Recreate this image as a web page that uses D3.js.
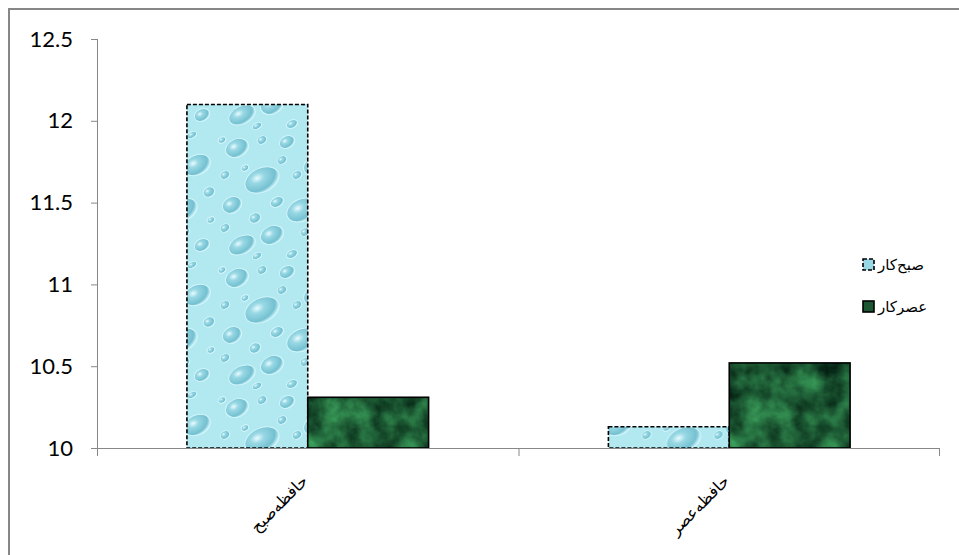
<!DOCTYPE html>
<html>
<head>
<meta charset="utf-8">
<script src="https://cdn.jsdelivr.net/npm/d3@7"></script>
<style>
  body { margin: 0; background: #fff; }
  svg { display: block; }
</style>
</head>
<body>
<div id="chart"></div>
<script>
// Data
const CATEGORIES = ['حافظه‌صبح', 'حافظه‌عصر'];
const SERIES = ['صبح‌کار', 'عصر‌کار'];
const VALUES = {
    'صبح‌کار': [12.1, 10.13],
    'عصر‌کار': [10.31, 10.52]
};
const Y_TICKS = [10, 10.5, 11, 11.5, 12, 12.5];

const WIDTH = 959, HEIGHT = 555;
const PLOT = { left: 97, right: 940, top: 39, bottom: 448 };

const svg = d3.select('#chart').append('svg')
    .attr('width', WIDTH)
    .attr('height', HEIGHT);

// Fill textures
const defs = svg.append('defs');

const drop = defs.append('radialGradient').attr('id', 'drop')
    .attr('cx', '40%').attr('cy', '35%').attr('r', '65%');
drop.append('stop').attr('offset', '0%').attr('stop-color', '#e9fbff');
drop.append('stop').attr('offset', '30%').attr('stop-color', '#98d8e4');
drop.append('stop').attr('offset', '80%').attr('stop-color', '#74c0d0');
drop.append('stop').attr('offset', '100%').attr('stop-color', '#c8f1f7');

const water = defs.append('pattern').attr('id', 'water')
    .attr('patternUnits', 'userSpaceOnUse')
    .attr('width', 120).attr('height', 130);
water.append('rect').attr('width', 120).attr('height', 130).attr('fill', '#b2e8f0');
[[20, 18, 12, 9], [70, 12, 8, 6], [100, 35, 14, 10], [45, 50, 18, 12], [15, 75, 10, 8],
 [85, 80, 16, 11], [55, 105, 12, 9], [105, 115, 8, 6], [25, 115, 14, 9], [65, 30, 5, 4],
 [8, 45, 5, 4], [112, 62, 6, 5], [38, 88, 6, 5], [45, 10, 5, 4], [80, 45, 5, 4],
 [28, 38, 4, 3], [60, 72, 7, 5], [8, 98, 5, 4], [88, 102, 5, 4], [114, 90, 4, 3],
 [40, 126, 5, 3], [75, 124, 6, 4], [5, 10, 4, 3], [95, 5, 5, 3]]
    .forEach(([cx, cy, rx, ry]) => {
        water.append('ellipse')
            .attr('cx', cx).attr('cy', cy).attr('rx', rx).attr('ry', ry)
            .attr('transform', `rotate(-25 ${cx} ${cy})`)
            .attr('fill', 'url(#drop)')
            .attr('stroke', '#d2f6fb').attr('stroke-width', 1);
    });

const noise = defs.append('filter').attr('id', 'marbleNoise')
    .attr('x', 0).attr('y', 0).attr('width', '100%').attr('height', '100%')
    .attr('color-interpolation-filters', 'sRGB');
noise.append('feTurbulence')
    .attr('type', 'fractalNoise')
    .attr('baseFrequency', 0.04)
    .attr('numOctaves', 4)
    .attr('seed', 3);
noise.append('feColorMatrix')
    .attr('type', 'matrix')
    .attr('values', '0.3 0 0 0 -0.04  0.7 0 0 0 0.0  0.4 0 0 0 0.0  0 0 0 0 1');

const marble = defs.append('pattern').attr('id', 'marble')
    .attr('patternUnits', 'userSpaceOnUse')
    .attr('width', WIDTH).attr('height', HEIGHT);
marble.append('rect').attr('width', WIDTH).attr('height', HEIGHT).attr('fill', '#1d5632');
marble.append('rect').attr('width', WIDTH).attr('height', HEIGHT).attr('filter', 'url(#marbleNoise)');

const FILLS = { 'صبح‌کار': 'url(#water)', 'عصر‌کار': 'url(#marble)' };
const DASH = { 'صبح‌کار': '4,2', 'عصر‌کار': null };

// Outer frame
svg.append('rect')
    .attr('x', 9).attr('y', 9)
    .attr('width', WIDTH + 20).attr('height', HEIGHT + 20)
    .attr('fill', 'none')
    .attr('stroke', '#878787')
    .attr('stroke-width', 2);

// Scales
const x0 = d3.scaleBand()
    .domain(CATEGORIES)
    .range([PLOT.left, PLOT.right]);
const x1 = d3.scaleBand()
    .domain(SERIES)
    .range([0, x0.bandwidth()])
    .paddingOuter(0.744);
const y = d3.scaleLinear()
    .domain([10, 12.5])
    .range([PLOT.bottom, PLOT.top]);

// Y axis
const yAxis = svg.append('g')
    .attr('transform', `translate(${PLOT.left},0)`)
    .call(d3.axisLeft(y).tickValues(Y_TICKS).tickSize(6).tickPadding(18)
        .tickFormat(d3.format('')));
yAxis.select('.domain').attr('stroke', '#888').attr('d', `M0.5,${PLOT.top}V${PLOT.bottom + 8}`);
yAxis.selectAll('.tick line').attr('stroke', '#888');
yAxis.selectAll('.tick text')
    .attr('fill', '#000')
    .style('font-family', 'Lato, "Open Sans", sans-serif')
    .style('font-size', '22px');

// Bars
const groups = svg.append('g').selectAll('g')
    .data(CATEGORIES)
    .join('g')
    .attr('transform', d => `translate(${x0(d)},0)`);

groups.selectAll('rect')
    .data((c, i) => SERIES.map(s => ({ series: s, value: VALUES[s][i] })))
    .join('rect')
    .attr('x', d => x1(d.series))
    .attr('y', d => y(d.value))
    .attr('width', x1.bandwidth())
    .attr('height', d => y(10) - y(d.value))
    .attr('fill', d => FILLS[d.series])
    .attr('stroke', '#000')
    .attr('stroke-width', 1.6)
    .attr('stroke-dasharray', d => DASH[d.series]);

// X axis
const xAxis = svg.append('g')
    .attr('transform', `translate(0,${PLOT.bottom})`);
xAxis.append('path')
    .attr('d', `M${PLOT.left - 6},0.5H${PLOT.right}`)
    .attr('stroke', '#888').attr('fill', 'none');
xAxis.selectAll('line.sep')
    .data(CATEGORIES.slice(1).concat([null]))
    .join('line')
    .attr('class', 'sep')
    .attr('x1', d => d ? x0(d) + 0.5 : PLOT.right - 0.5)
    .attr('x2', d => d ? x0(d) + 0.5 : PLOT.right - 0.5)
    .attr('y1', 0).attr('y2', 8)
    .attr('stroke', '#888');
xAxis.selectAll('text')
    .data(CATEGORIES)
    .join('text')
    .attr('transform', d => `translate(${x0(d) + x0.bandwidth() / 2 - 3},${30}) rotate(-45)`)
    .attr('text-anchor', 'end')
    .attr('dy', '0.35em')
    .style('font-family', '"DejaVu Sans", sans-serif')
    .style('font-size', '16px')
    .attr('fill', '#000')
    .text(d => d);

// Legend
const legend = svg.append('g')
    .attr('transform', 'translate(862,258)');
const item = legend.selectAll('g')
    .data(SERIES)
    .join('g')
    .attr('transform', (d, i) => `translate(0,${i * 42})`);
item.append('rect')
    .attr('x', 1).attr('y', 1)
    .attr('width', 11).attr('height', 11)
    .attr('fill', d => d === SERIES[0] ? '#98d8e4' : '#1d5632')
    .attr('stroke', '#000')
    .attr('stroke-width', 1.6)
    .attr('stroke-dasharray', d => d === SERIES[0] ? '4,2' : null);
item.append('text')
    .attr('x', 16).attr('y', 7)
    .attr('dy', '0.35em')
    .attr('text-anchor', 'start')
    .style('font-family', '"DejaVu Sans", sans-serif')
    .style('font-size', '15px')
    .attr('fill', '#000')
    .text(d => d);
</script>
</body>
</html>
